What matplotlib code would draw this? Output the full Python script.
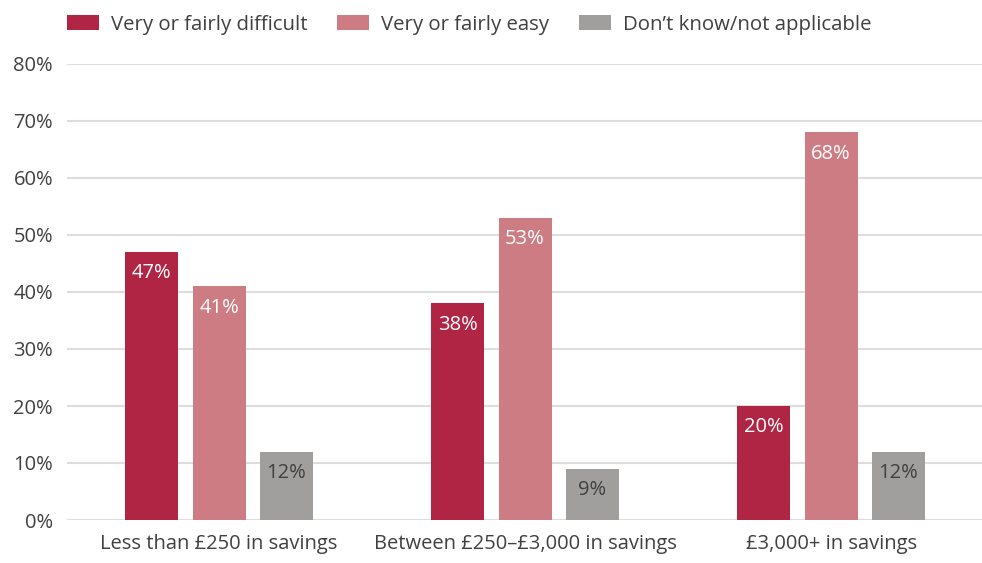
import numpy as np
import matplotlib.pyplot as plt
from matplotlib.patches import Patch

# --- data ---
groups = ['Less than £250 in savings', 'Between £250–£3,000 in savings', '£3,000+ in savings']
series = ['Very or fairly difficult', 'Very or fairly easy', 'Don’t know/not applicable']
difficult = [47, 38, 20]
easy = [41, 53, 68]
dont_know = [12, 9, 12]

colors = ['#B02444', '#CD7C83', '#A09F9D']
label_colors = ['white', 'white', '#404040']
text_col = '#404040'

plt.rcParams['font.family'] = ['Open Sans', 'DejaVu Sans']

fig = plt.figure(figsize=(9.82, 5.63), dpi=100)
ax = fig.add_axes([67 / 982, 43 / 563, 1 - 67 / 982, 456 / 563])

x = np.arange(len(groups))
width = 0.173
step = 0.22

for i, (vals, col, lc) in enumerate(zip([difficult, easy, dont_know], colors, label_colors)):
    pos = x + (i - 1) * step
    bars = ax.bar(pos, vals, width=width, color=col, label=series[i], zorder=3)
    for b, v in zip(bars, vals):
        ax.text(b.get_x() + b.get_width() / 2, v - 2.0, f'{v}%', ha='center', va='top',
                color=lc, fontsize=14.5, zorder=4)

ax.set_xlim(-0.497, 2.493)
ax.set_ylim(0, 80)
ax.set_yticks(range(0, 81, 10))
ax.set_yticklabels([f'{t}%' for t in range(0, 81, 10)])
ax.set_xticks(x)
ax.set_xticklabels(groups)
ax.tick_params(axis='both', length=0, colors=text_col, labelsize=14.5)
ax.tick_params(axis='y', pad=10)
ax.tick_params(axis='x', pad=10)
ax.grid(axis='y', color='#DDDDDD', linewidth=1.5, zorder=0)
for s in ax.spines.values():
    s.set_visible(False)

handles = [Patch(facecolor=c, edgecolor='none') for c in colors]
leg = fig.legend(handles, series, loc='upper left', bbox_to_anchor=(55 / 982, 0.996),
                 ncol=3, frameon=False, fontsize=14.7, handlelength=1.55, handleheight=0.8,
                 columnspacing=1.45, handletextpad=0.6, borderaxespad=0.2)
for t in leg.get_texts():
    t.set_color(text_col)

fig.savefig('out.png', dpi=100)
